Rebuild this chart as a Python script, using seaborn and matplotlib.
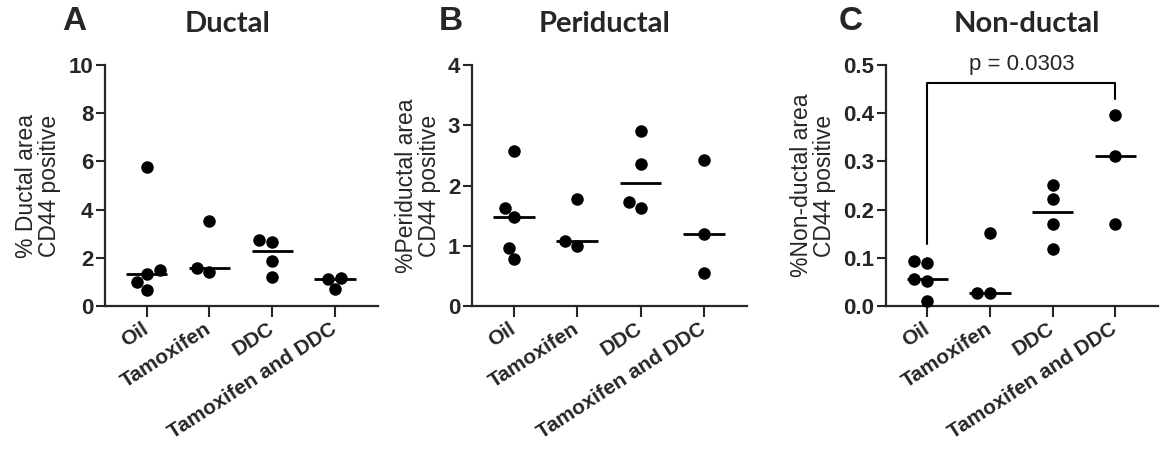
import numpy as np
import pandas as pd
import matplotlib
matplotlib.use("Agg")
import matplotlib.pyplot as plt
import seaborn as sns

# ---------------- data ----------------
categories = ["Oil", "Tamoxifen", "DDC", "Tamoxifen and DDC"]

ductal_oil = [0.66, 1.01, 1.33, 1.50, 5.78]
ductal_tam = [1.40, 1.56, 3.52]
ductal_ddc = [1.19, 1.88, 2.66, 2.72]
ductal_tamddc = [0.69, 1.12, 1.15]

peri_oil = [0.78, 0.97, 1.47, 1.63, 2.58]
peri_tam = [0.99, 1.08, 1.77]
peri_ddc = [1.62, 1.73, 2.35, 2.91]
peri_tamddc = [0.55, 1.20, 2.42]

non_oil = [0.010, 0.052, 0.055, 0.089, 0.093]
non_tam = [0.026, 0.028, 0.152]
non_ddc = [0.118, 0.170, 0.222, 0.251]
non_tamddc = [0.170, 0.311, 0.396]

titles = ["Ductal", "Periductal", "Non-ductal"]
panel_letters = ["A", "B", "C"]
ylabels = ["% Ductal area\nCD44 positive",
           "%Periductal area\nCD44 positive",
           "%Non-ductal area\nCD44 positive"]
yticks_A = [0, 2, 4, 6, 8, 10]
yticks_B = [0, 1, 2, 3, 4]
yticks_C = [0.0, 0.1, 0.2, 0.3, 0.4, 0.5]
ytick_labels_C = ["0.0", "0.1", "0.2", "0.3", "0.4", "0.5"]
p_text = "p = 0.0303"
p_pair = ["Oil", "Tamoxifen and DDC"]


def make_df(groups):
    rows = []
    for cat, vals in zip(categories, groups):
        for v in vals:
            rows.append({"group": cat, "value": v})
    return pd.DataFrame(rows)


dfs = [
    make_df([ductal_oil, ductal_tam, ductal_ddc, ductal_tamddc]),
    make_df([peri_oil, peri_tam, peri_ddc, peri_tamddc]),
    make_df([non_oil, non_tam, non_ddc, non_tamddc]),
]

# ---------------- style ----------------
sns.set_theme(style="ticks")
plt.rcParams["font.family"] = ["Liberation Sans", "DejaVu Sans"]
plt.rcParams["axes.linewidth"] = 1.6

W, H = 1165, 458
fig = plt.figure(figsize=(W / 100, H / 100), dpi=100)

# axes rectangles in pixels: (left, right)
ax_px = [(105, 378), (472, 747), (886, 1158)]
top_px, bottom_px = 65, 306
ylims = [(0, 10), (0, 4), (0, 0.5)]
yticks = [yticks_A, yticks_B, yticks_C]
letter_x = [74, 451, 851]
title_cx = [228, 605, 1027]

for i in range(3):
    l, r = ax_px[i]
    ax = fig.add_axes([l / W, 1 - bottom_px / H, (r - l) / W, (bottom_px - top_px) / H])
    df = dfs[i]

    sns.swarmplot(data=df, x="group", y="value", order=categories, color="black",
                  size=9, linewidth=0, ax=ax)
    for coll in ax.collections:
        coll.set_clip_on(False)

    sns.boxplot(data=df, x="group", y="value", order=categories,
                showbox=False, showcaps=False, showfliers=False,
                whiskerprops={"visible": False},
                medianprops={"color": "black", "linewidth": 2.0},
                width=0.66, ax=ax)

    ax.set_xlim(-0.66, 3.68)
    ax.set_ylim(*ylims[i])
    ax.set_yticks(yticks[i])
    if i == 2:
        ax.set_yticklabels(ytick_labels_C)
    ax.set_xlabel("")
    ax.set_ylabel(ylabels[i], fontsize=16.5, labelpad=5, linespacing=1.0)
    sns.despine(ax=ax)
    ax.spines["left"].set_linewidth(1.6)
    ax.spines["bottom"].set_linewidth(1.6)
    ax.tick_params(axis="y", length=6.5, width=1.5, labelsize=16, pad=2)
    ax.tick_params(axis="x", length=8, width=1.5, labelsize=15, pad=7)
    for t in ax.get_yticklabels():
        t.set_fontweight("bold")
    for t in ax.get_xticklabels():
        t.set_fontweight("bold")
        t.set_rotation(33)
        t.set_ha("right")
        t.set_rotation_mode("anchor")
        t.set_va("center")

    ax.set_title(titles[i], fontsize=21, fontweight="bold", family="Lato", pad=24,
                 x=(title_cx[i] - l) / (r - l))
    fig.text(letter_x[i] / W, 1 - 22 / H, panel_letters[i], fontsize=24,
             fontweight="bold", ha="center", va="center")

    if i == 2:
        x0 = categories.index(p_pair[0])
        x1 = categories.index(p_pair[1])
        ax.plot([x0, x0, x1, x1], [0.128, 0.463, 0.463, 0.429], color="black",
                lw=1.5, clip_on=False)
        ax.text((x0 + x1) / 2, 0.49, p_text, ha="center", va="baseline",
                fontsize=16, clip_on=False)

fig.savefig("out.png", dpi=100)
